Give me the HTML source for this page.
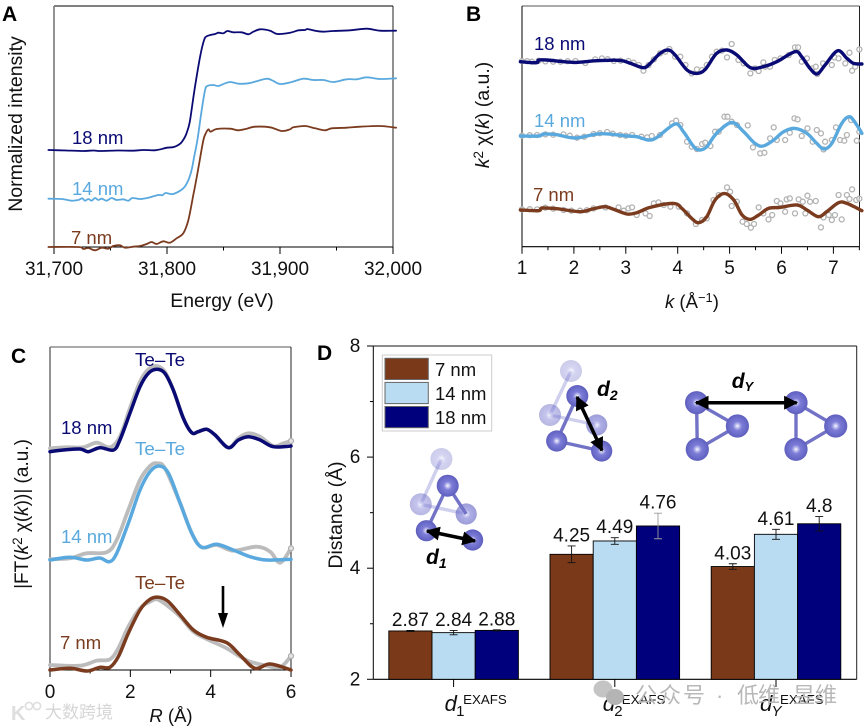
<!DOCTYPE html>
<html lang="en">
<head>
<meta charset="utf-8">
<title>Te nanoparticle EXAFS figure</title>
<style>
html,body{margin:0;padding:0;background:#fff;width:866px;height:728px;overflow:hidden}
svg{display:block;font-family:"Liberation Sans","Noto Sans CJK SC",sans-serif;fill:#111;filter:blur(0.35px)}
text{font-size:19px}
.letter{font-size:21px;font-weight:bold;fill:#000}
.it{font-style:italic}
.bi{font-style:italic;font-weight:bold;fill:#000}
</style>
</head>
<body>
<svg id="fig" width="866" height="728" viewBox="0 0 866 728" xmlns="http://www.w3.org/2000/svg">
  <defs>
    <radialGradient id="ball" cx="50%" cy="50%" r="55%">
      <stop offset="0" stop-color="#fff"/>
      <stop offset="0.12" stop-color="#c9c9f2"/>
      <stop offset="0.35" stop-color="#7d7dd8"/>
      <stop offset="0.85" stop-color="#6262c2"/>
      <stop offset="1" stop-color="#4c4ca8"/>
    </radialGradient>
    <marker id="ah" viewBox="0 0 10 10" refX="9" refY="5" markerWidth="4" markerHeight="4" orient="auto-start-reverse">
      <path d="M0 0L10 5L0 10z" fill="#000"/>
    </marker>
  </defs>

  <g id="panelA"></g>
  <g id="panelB"></g>
  <g id="panelC"></g>
  <g id="panelD"></g>

  <text class="letter" x="2" y="21">A</text>
  <text class="letter" x="466" y="21">B</text>
  <text class="letter" x="11" y="363">C</text>
  <text class="letter" x="317" y="360">D</text>

  <text transform="translate(22,124) rotate(-90)" text-anchor="middle" style="font-size:19.5px">Normalized intensity</text>
  <text x="222" y="307" text-anchor="middle" style="font-size:19.4px">Energy (eV)</text>

  <text transform="translate(489,115) rotate(-90)" text-anchor="middle" style="font-size:19.5px"><tspan class="it">k</tspan><tspan dy="-6" style="font-size:13.5px">2</tspan><tspan dy="6"> χ(</tspan><tspan class="it">k</tspan><tspan>) (a.u.)</tspan></text>
  <text x="692" y="308" text-anchor="middle" style="font-size:18.5px"><tspan class="it">k</tspan><tspan> (Å</tspan><tspan dy="-6" style="font-size:13px">−1</tspan><tspan dy="6">)</tspan></text>

  <text transform="translate(28,514) rotate(-90)" text-anchor="middle" style="font-size:19px"><tspan>|FT(</tspan><tspan class="it">k</tspan><tspan dy="-6" style="font-size:13.5px">2</tspan><tspan dy="6"> χ(</tspan><tspan class="it">k</tspan><tspan>))| (a.u.)</tspan></text>
  <text x="171" y="722" text-anchor="middle" style="font-size:18.5px"><tspan class="it">R</tspan><tspan> (Å)</tspan></text>

  <text transform="translate(342,515) rotate(-90)" text-anchor="middle" style="font-size:19.5px">Distance (Å)</text>

  <!-- annotations panel C -->
  <line x1="223" y1="586" x2="223" y2="613" stroke="#000" stroke-width="2.6"/>
  <path d="M218 613L228 613L223 628z" fill="#000"/>

  <!-- molecular illustrations -->
  <g>
    <g>
      <g stroke="#cfcfee" stroke-width="3.4" fill="none">
        <line x1="441.4" y1="459" x2="420.8" y2="504.3"/>
        <line x1="420.8" y1="504.3" x2="466.2" y2="514"/>
      </g>
      <circle cx="441.4" cy="459" r="11" fill="url(#ball)" opacity="0.32"/>
      <circle cx="420.8" cy="504.3" r="11" fill="url(#ball)" opacity="0.45"/>
      <circle cx="466.2" cy="514" r="10.6" fill="url(#ball)" opacity="0.62"/>
      <g stroke="#7272c6" stroke-width="3.4" fill="none">
        <line x1="447.7" y1="485.7" x2="426.4" y2="530.7"/>
        <line x1="447.7" y1="485.7" x2="466.2" y2="514"/>
      </g>
      <circle cx="447.7" cy="485.7" r="11" fill="url(#ball)"/>
      <circle cx="426.4" cy="530.7" r="10.6" fill="url(#ball)"/>
      <circle cx="472.6" cy="540" r="10.6" fill="url(#ball)"/>
      <line x1="427" y1="531" x2="475" y2="541" stroke="#000" stroke-width="3.5" marker-start="url(#ah)" marker-end="url(#ah)"/>
      <text x="426" y="564" class="bi" style="font-size:21px">d<tspan dy="4" style="font-size:14px">1</tspan></text>
    </g>
    <g>
      <g stroke="#cfcfee" stroke-width="3.4" fill="none">
        <line x1="571" y1="371" x2="550" y2="415"/>
        <line x1="550" y1="415" x2="596.7" y2="425"/>
      </g>
      <circle cx="571" cy="371" r="11" fill="url(#ball)" opacity="0.32"/>
      <circle cx="550" cy="415" r="11" fill="url(#ball)" opacity="0.45"/>
      <circle cx="596.7" cy="425" r="10.6" fill="url(#ball)" opacity="0.62"/>
      <g stroke="#7272c6" stroke-width="3.4" fill="none">
        <line x1="577.3" y1="396" x2="556.7" y2="441"/>
        <line x1="556.7" y1="441" x2="601.7" y2="451"/>
      </g>
      <circle cx="577.3" cy="396" r="11" fill="url(#ball)"/>
      <circle cx="556.7" cy="441" r="10.6" fill="url(#ball)"/>
      <circle cx="601.7" cy="451" r="10.6" fill="url(#ball)"/>
      <line x1="577" y1="397" x2="602" y2="450.5" stroke="#000" stroke-width="3.5" marker-start="url(#ah)" marker-end="url(#ah)"/>
      <text x="597" y="396" class="bi" style="font-size:21px">d<tspan dy="4" style="font-size:14px">2</tspan></text>
    </g>
    <g>
      <g stroke="#7272c6" stroke-width="3.4" fill="none">
        <path d="M696.6 402.7L737.4 426L697.3 449.3z"/>
        <path d="M796 402.7L835.7 426L796 449.3z"/>
      </g>
      <circle cx="696.6" cy="402.7" r="11.6" fill="url(#ball)"/>
      <circle cx="737.4" cy="426" r="11.6" fill="url(#ball)"/>
      <circle cx="697.3" cy="449.3" r="11.6" fill="url(#ball)"/>
      <circle cx="796" cy="402.7" r="11.6" fill="url(#ball)"/>
      <circle cx="835.7" cy="426" r="11.6" fill="url(#ball)"/>
      <circle cx="796" cy="449.3" r="11.6" fill="url(#ball)"/>
      <line x1="696" y1="402.7" x2="796.7" y2="402.7" stroke="#000" stroke-width="3.5" marker-start="url(#ah)" marker-end="url(#ah)"/>
      <text x="731.7" y="388" class="bi" style="font-size:21px">d<tspan dy="3" style="font-size:13px">Y</tspan></text>
    </g>
  </g>

  <!-- watermarks -->
  <g fill="#bdbdbd">
    <ellipse cx="603" cy="689" rx="9.5" ry="8.5" fill="#c4c4c4"/>
    <ellipse cx="615" cy="697" rx="9" ry="8" fill="#b4b4b4"/>
    <text x="635" y="703" style="font-size:22px;letter-spacing:2px;fill:#b8b8b8">公众号</text>
    <text x="716" y="703" style="font-size:22px;fill:#b8b8b8">·</text>
    <text x="737" y="703" style="font-size:22px;letter-spacing:-1px;fill:#b8b8b8">低维</text>
    <text x="793" y="703" style="font-size:22px;fill:#b8b8b8">昱维</text>
  </g>
  <g>
    <text x="11" y="720" style="font-size:20px;font-weight:bold;fill:#dedede">K</text>
    <circle cx="29" cy="706" r="3.6" fill="none" stroke="#dedede" stroke-width="1.6"/>
    <circle cx="37" cy="706" r="3.6" fill="none" stroke="#dedede" stroke-width="1.6"/>
    <text x="45" y="718" style="font-size:17px;fill:#d6d6d6">大数跨境</text>
  </g>
</svg>

<script>
// ---------- Panel A data ----------
const aTicks = [31700, 31800, 31900, 32000];
const aTickLabels = ["31,700", "31,800", "31,900", "32,000"];
const aMinorTicks = [31750, 31850, 31950];
const a18E = [31695,31711,31726,31735,31741,31756,31770,31779,31790,31800,31806,31812,31816,31818,31820.4,31824.8,31829.3,31832.8,31835.7,31842.5,31845.5,31849.9,31853.4,31858.8,31866.1,31872,31876.5,31882.4,31891.2,31897.7,31908.9,31916.3,31922.2,31924.2,31931,31938.4,31947.3,31962,31976.8,31988.6,32002.7];
const a18V = [.97,.965,.96,.965,.96,.965,.963,.97,.968,.993,1.0,1.037,1.103,1.16,1.27,1.603,1.903,2.07,2.11,2.13,2.143,2.137,2.16,2.147,2.147,2.127,2.153,2.177,2.163,2.13,2.143,2.167,2.17,2.18,2.163,2.153,2.16,2.167,2.183,2.163,2.163];
const a14E = [31695,31706.8,31715.6,31721.5,31725,31727.4,31730.4,31733.3,31736.3,31739.2,31742.2,31746.6,31751,31755.4,31761.3,31765.8,31769.3,31776.1,31783.5,31792.3,31795.8,31798.8,31805.6,31814.4,31818.9,31821.8,31824,31826.9,31830.7,31833.7,31835.7,31841,31845.5,31851.4,31856.4,31863.2,31872,31880.9,31888.8,31894.2,31900.1,31910.4,31920.7,31929.6,31938.4,31947.3,31959,31967.9,31976.8,31988.6,32002.7];
const a14V = [.483,.48,.463,.47,.487,.463,.48,.463,.49,.47,.483,.463,.49,.47,.477,.463,.49,.48,.493,.52,.517,.54,.53,.587,.67,.77,.9,1.07,1.37,1.57,1.61,1.62,1.61,1.637,1.65,1.633,1.637,1.663,1.683,1.66,1.63,1.65,1.683,1.67,1.67,1.65,1.677,1.677,1.697,1.68,1.687];
const a7E = [31695,31721.5,31725.9,31730.4,31736.3,31742.2,31748,31752.5,31758.4,31762.8,31770.2,31776.1,31782,31786.4,31790.8,31796.7,31802.6,31808.5,31814.4,31818.9,31823.3,31826,31829,31832.2,31834.3,31836.6,31838.7,31844,31855.8,31863.2,31870.6,31877.9,31891.2,31901.5,31908.9,31911.9,31922.2,31931,31939.9,31945.8,31959,31970.9,31988.6,32002.7];
const a7V = [0,0,-.02,-.01,-.033,-.007,-.017,.01,.017,-.007,.003,.01,.03,.05,.03,.057,.043,.087,.137,.27,.52,.68,.87,1.07,1.137,1.177,1.153,1.18,1.183,1.167,1.183,1.203,1.197,1.16,1.177,1.197,1.21,1.187,1.167,1.187,1.193,1.203,1.21,1.193];

// ---------- Panel B data ----------
const bTicks = [1, 2, 3, 4, 5, 6, 7];
const bMinorTicks = [1.5, 2.5, 3.5, 4.5, 5.5, 6.5, 7.5];
const b18K = [.97,1.28,1.32,1.48,1.99,2.44,2.89,3.09,3.34,3.47,3.66,3.82,3.95,4.18,4.37,4.53,4.75,4.95,5.14,5.40,5.65,5.91,6.26,6.39,6.55,6.69,6.84,7.08,7.26,7.39,7.55];
const b18V = [1.85,1.84,1.867,1.867,1.843,1.86,1.863,1.833,1.79,1.833,1.933,1.967,1.917,1.767,1.733,1.773,1.933,1.967,1.917,1.79,1.8,1.85,1.95,1.9,1.783,1.727,1.817,1.96,1.883,1.833,1.827];
const b14K = [.97,1.32,1.42,1.67,2.03,2.51,3.02,3.21,3.44,3.6,3.95,4.11,4.31,4.43,4.56,4.75,5.04,5.27,5.49,5.65,5.85,6.04,6.26,6.49,6.68,6.82,6.97,7.16,7.31,7.45,7.55];
const b14V = [1.107,1.107,1.127,1.12,1.087,1.13,1.107,1.1,1.067,1.093,1.227,1.15,1.0,.967,1.0,1.133,1.243,1.15,1.033,1.007,1.067,1.15,1.183,1.133,1.033,.977,1.033,1.233,1.3,1.217,1.133];
const b7K = [.97,1.32,1.39,1.67,2.12,2.38,2.6,2.77,3.02,3.21,3.47,3.92,4.08,4.27,4.4,4.56,4.72,4.9,5.08,5.24,5.4,5.56,5.75,5.97,6.3,6.49,6.71,6.87,7.1,7.26,7.55];
const b7V = [.367,.36,.387,.38,.35,.38,.4,.373,.327,.34,.393,.433,.383,.283,.24,.3,.467,.533,.467,.317,.273,.317,.383,.393,.417,.367,.3,.35,.44,.433,.36];
const b18PtK = [1,1.1,1.19,1.32,1.45,1.6,1.74,1.88,2.03,2.22,2.41,2.54,2.65,2.77,2.9,3.05,3.15,3.25,3.34,3.44,3.54,3.66,3.76,3.84,3.95,4.05,4.15,4.27,4.37,4.47,4.56,4.66,4.75,4.85,4.95,5.04,5.17,5.27,5.40,5.49,5.56,5.65,5.69,5.78,5.87,5.98,6.14,6.26,6.32,6.39,6.49,6.59,6.66,6.69,6.80,6.97,7.02,7.10,7.23,7.31,7.36,7.42,7.50];
const b18PtV = [1.857,1.855,1.85,1.86,1.853,1.85,1.85,1.855,1.857,1.837,1.873,1.883,1.875,1.857,1.86,1.857,1.84,1.817,1.76,1.817,1.873,1.933,1.95,1.977,1.9,1.9,1.817,1.733,1.773,1.767,1.817,1.9,1.95,1.96,1.893,2.027,1.867,1.833,1.733,1.783,1.757,1.843,1.8,1.8,1.867,1.883,1.917,1.993,1.993,1.85,1.883,1.783,1.8,1.727,1.833,1.817,1.893,1.883,1.833,1.94,1.76,1.8,1.973];
const b14PtK = [1,1.15,1.29,1.45,1.6,1.80,1.92,2.06,2.2,2.38,2.5,2.64,2.75,2.89,3.0,3.12,3.3,3.41,3.50,3.66,3.89,3.97,4.05,4.18,4.27,4.37,4.47,4.53,4.63,4.72,4.79,4.90,4.96,5.04,5.14,5.35,5.45,5.59,5.67,5.78,5.85,5.91,6.07,6.16,6.25,6.31,6.39,6.50,6.60,6.68,6.76,6.81,6.84,6.97,7.05,7.13,7.21,7.26,7.34,7.45,7.50];
const b14PtV = [1.11,1.115,1.117,1.123,1.12,1.123,1.11,1.09,1.1,1.127,1.135,1.147,1.13,1.117,1.11,1.117,1.1,1.093,1.107,1.117,1.233,1.26,1.217,1.05,1.0,.977,1.027,1.04,1.007,1.15,1.15,1.3,1.3,1.25,1.217,1.213,.993,.933,.94,1.083,1.193,1.067,1.067,1.14,1.283,1.273,1.107,1.183,1.05,1.167,1.133,.973,1.05,1.067,1.193,1.067,1.06,1.117,1.267,1.06,1.15];
const b7PtK = [1,1.15,1.29,1.45,1.6,1.80,1.95,2.12,2.25,2.38,2.61,2.86,2.96,3.05,3.12,3.21,3.38,3.46,3.54,3.63,3.73,3.86,4.02,4.18,4.35,4.47,4.56,4.69,4.79,4.95,5.01,5.04,5.14,5.25,5.33,5.41,5.47,5.56,5.65,5.75,5.82,5.91,5.98,6.07,6.10,6.16,6.26,6.33,6.41,6.46,6.50,6.55,6.66,6.76,6.81,6.91,6.97,7.03,7.10,7.16,7.26,7.31,7.36,7.44,7.50];
const b7PtV = [.373,.375,.373,.39,.38,.367,.36,.36,.365,.383,.393,.393,.36,.383,.393,.317,.333,.307,.433,.443,.417,.4,.4,.333,.227,.267,.283,.467,.517,.593,.55,.407,.45,.25,.227,.19,.227,.393,.333,.273,.317,.457,.433,.35,.473,.483,.333,.473,.45,.333,.51,.45,.457,.193,.293,.317,.267,.317,.517,.273,.517,.477,.573,.467,.48];

// ---------- Panel C data ----------
const cTicks = [0, 2, 4, 6];
const cMinorTicks = [1, 3, 5];
const c18R = [0,.33,.75,.95,1.24,1.58,1.74,1.99,2.24,2.45,2.66,2.86,3.07,3.32,3.53,3.69,3.90,4.11,4.44,4.69,4.94,5.23,5.56,6.0];
const c18V = [2.183,2.2,2.21,2.183,2.223,2.2,2.3,2.567,2.833,2.967,3.007,2.967,2.8,2.517,2.373,2.383,2.407,2.35,2.223,2.3,2.333,2.3,2.233,2.24];
const c18FitR = [0,.41,.83,1.16,1.49,1.74,1.99,2.24,2.45,2.66,2.86,3.07,3.32,3.53,3.69,3.90,4.11,4.44,4.69,4.94,5.23,5.56,5.81,6.0];
const c18FitV = [2.217,2.227,2.227,2.273,2.227,2.333,2.617,2.883,3.007,3.04,2.983,2.8,2.517,2.373,2.383,2.407,2.35,2.223,2.317,2.367,2.333,2.24,2.267,2.29];
const c14R = [0,.5,.91,1.24,1.48,1.66,1.95,2.24,2.49,2.72,2.95,3.24,3.53,3.78,4.15,4.56,4.98,5.39,6.0];
const c14V = [1.1,1.127,1.1,1.12,1.083,1.167,1.467,1.8,1.983,2.04,1.967,1.667,1.367,1.227,1.257,1.2,1.133,1.1,1.107];
const c14FitR = [0,.5,.91,1.41,1.66,1.95,2.24,2.49,2.66,2.86,3.24,3.53,3.78,4.15,4.56,5.14,5.48,5.73,6.0];
const c14FitV = [1.107,1.117,1.167,1.177,1.3,1.6,1.9,2.04,2.067,2.017,1.667,1.367,1.227,1.25,1.193,1.233,1.183,1.073,1.217];
const c7R = [0,.5,.93,1.24,1.49,1.7,1.95,2.24,2.49,2.72,2.95,3.24,3.57,3.9,4.4,4.73,5.1,5.48,6.0];
const c7V = [0,.017,-.01,.027,.027,.133,.367,.6,.707,.727,.683,.55,.4,.327,.273,.15,.017,.06,0];
const c7FitR = [0,.75,1.16,1.49,1.7,1.95,2.24,2.49,2.66,2.9,3.24,3.57,3.9,4.4,4.73,4.98,5.31,5.64,5.81,6.0];
const c7FitV = [.05,.043,.093,.107,.217,.433,.617,.683,.707,.65,.533,.383,.31,.217,.133,.083,.05,.023,.05,.14];

// ---------- Panel D data ----------
const dYTicks = [2, 4, 6, 8];
const dYMinorTicks = [3, 5, 7];
const dSeriesNames = ["7 nm", "14 nm", "18 nm"];
const d7nm = [2.87, 4.25, 4.03];
const d14nm = [2.84, 4.49, 4.61];
const d18nm = [2.88, 4.76, 4.8];
const d7Err = [0.01, 0.15, 0.05];
const d14Err = [0.04, 0.06, 0.09];
const d18Err = [0.01, 0.23, 0.13];
const dCategorySubs = ["1", "2", "Y"];

// ---------- colours ----------
const NAVY = "#0a0a74", SKY = "#5aa9de", BROWN = "#7a3b1e";

// ---------- axis functions ----------
const xA = e => 54 + (e - 31700) * 339 / 300;
const yA = v => 247 - v * 100;
const xB = k => 522 + (k - 1) * 51.9;
const yB = v => 246.7 - v * 100;
const xC = r => 50 + r * 40.17;
const yC = v => 670 - v * 100;
const yD = v => 679.3 - (v - 2) * 55.55;
const xD = i => 453.6 + i * 161.2;
const BARW = 43.2;

const NS = "http://www.w3.org/2000/svg";
function mk(tag, attrs, parent) {
  const e = document.createElementNS(NS, tag);
  for (const a in attrs) e.setAttribute(a, attrs[a]);
  parent.appendChild(e);
  return e;
}
function smooth(xs, ys, fx, fy) {
  const p = xs.map((x, i) => [fx(x), fy(ys[i])]);
  let d = "M" + p[0][0].toFixed(1) + " " + p[0][1].toFixed(1);
  for (let i = 0; i < p.length - 1; i++) {
    const a = p[Math.max(i - 1, 0)], b = p[i], c = p[i + 1], e = p[Math.min(i + 2, p.length - 1)];
    const c1x = b[0] + (c[0] - a[0]) / 6, c1y = b[1] + (c[1] - a[1]) / 6;
    const c2x = c[0] - (e[0] - b[0]) / 6, c2y = c[1] - (e[1] - b[1]) / 6;
    d += "C" + c1x.toFixed(1) + " " + c1y.toFixed(1) + " " + c2x.toFixed(1) + " " + c2y.toFixed(1) + " " + c[0].toFixed(1) + " " + c[1].toFixed(1);
  }
  return d;
}
function drawFrame(parent, prefix, l, t, r, b, leftCol, topCol) {
  const sides = [
    [l, t, r, t, topCol, topCol === "#000" ? 1 : 1.3, "top"],
    [r, t, r, b, "#222", 1, "right"],
    [l, t, l, b, leftCol, leftCol === "#000" ? 1 : 1.6, "left"],
    [l, b, r, b, "#000", 1.1, "bottom"]
  ];
  sides.forEach(s => {
    const ln = mk("line", { x1: s[0], y1: s[1], x2: s[2], y2: s[3], stroke: s[4], "stroke-width": s[5] }, parent);
    
    
  });
}
function drawXTicks(parent, prefix, ticks, labels, minor, fx, yBase, yLabel, size) {
  ticks.forEach((t, i) => {
    const ln = mk("line", { x1: fx(t), y1: yBase, x2: fx(t), y2: yBase + 7, stroke: "#000", "stroke-width": 1 }, parent);
    
    
    const tx = mk("text", { x: fx(t), y: yLabel, "text-anchor": "middle", style: "font-size:" + size + "px" }, parent);
    tx.textContent = labels[i];
    
    
  });
  minor.forEach(t => {
    const ln = mk("line", { x1: fx(t), y1: yBase, x2: fx(t), y2: yBase + 3.5, stroke: "#000", "stroke-width": 1 }, parent);
    
    
  });
}
function drawLine(parent, name, xs, ys, fx, fy, color, width) {
  const p = mk("path", { d: smooth(xs, ys, fx, fy), fill: "none", stroke: color, "stroke-width": width, "stroke-linejoin": "round", "stroke-linecap": "round" }, parent);
  
  
}
function drawPoints(parent, name, xs, ys, fx, fy) {
  xs.forEach((x, i) => {
    const c = mk("circle", { cx: fx(x), cy: fy(ys[i]), r: 2.5, fill: "#fff", "fill-opacity": 0.6, stroke: "#b2b2b2", "stroke-width": 1.3 }, parent);
    
    
  });
}
function drawLabel(parent, name, txt, x, y, color, size) {
  const t = mk("text", { x: x, y: y, fill: color, style: "font-size:" + size + "px;fill:" + color }, parent);
  t.textContent = txt;
  
  
}

// ---------- Panel A ----------
const pA = document.getElementById("panelA");
drawFrame(pA, "panel-a", 54, 6, 393, 247, "#777", "#000");
drawXTicks(pA, "panel-a", aTicks, aTickLabels, aMinorTicks, xA, 247, 275, 19);
drawLine(pA, "xanes-18nm-line", a18E, a18V, xA, yA, NAVY, 1.8);
drawLine(pA, "xanes-14nm-line", a14E, a14V, xA, yA, SKY, 1.8);
drawLine(pA, "xanes-7nm-line", a7E, a7V, xA, yA, BROWN, 1.8);
drawLabel(pA, "label-18nm-a", "18 nm", 72, 144, NAVY, 18.5);
drawLabel(pA, "label-14nm-a", "14 nm", 72, 195, SKY, 18.5);
drawLabel(pA, "label-7nm-a", "7 nm", 71, 244, BROWN, 18.5);

// ---------- Panel B ----------
const pB = document.getElementById("panelB");
drawFrame(pB, "panel-b", 522, 6, 859.5, 246.7, "#000", "#777");
drawXTicks(pB, "panel-b", bTicks, bTicks.map(String), bMinorTicks, xB, 246.7, 274, 19);
drawPoints(pB, "exafs-18nm-point", b18PtK, b18PtV, xB, yB);
drawPoints(pB, "exafs-14nm-point", b14PtK, b14PtV, xB, yB);
drawPoints(pB, "exafs-7nm-point", b7PtK, b7PtV, xB, yB);
drawLine(pB, "exafs-18nm-fit", b18K, b18V, xB, yB, NAVY, 3.4);
drawLine(pB, "exafs-14nm-fit", b14K, b14V, xB, yB, SKY, 3.4);
drawLine(pB, "exafs-7nm-fit", b7K, b7V, xB, yB, BROWN, 3.4);
drawLabel(pB, "label-18nm-b", "18 nm", 534, 50, NAVY, 18.5);
drawLabel(pB, "label-14nm-b", "14 nm", 534, 127, SKY, 18.5);
drawLabel(pB, "label-7nm-b", "7 nm", 533, 201, BROWN, 18.5);

// ---------- Panel C ----------
const pC = document.getElementById("panelC");
drawFrame(pC, "panel-c", 50, 347, 291, 670, "#777", "#777");
drawXTicks(pC, "panel-c", cTicks, cTicks.map(String), cMinorTicks, xC, 670, 698, 19);
drawLine(pC, "ft-18nm-data", c18FitR, c18FitV, xC, yC, "#bcbcbc", 3.8);
drawLine(pC, "ft-14nm-data", c14FitR, c14FitV, xC, yC, "#bcbcbc", 3.8);
drawLine(pC, "ft-7nm-data", c7FitR, c7FitV, xC, yC, "#bcbcbc", 3.8);
drawPoints(pC, "ft-18nm-end-point", c18FitR.slice(-1), c18FitV.slice(-1), xC, yC);
drawPoints(pC, "ft-14nm-end-point", c14FitR.slice(-1), c14FitV.slice(-1), xC, yC);
drawPoints(pC, "ft-7nm-end-point", c7FitR.slice(-1), c7FitV.slice(-1), xC, yC);
drawLine(pC, "ft-18nm-fit", c18R, c18V, xC, yC, NAVY, 3.5);
drawLine(pC, "ft-14nm-fit", c14R, c14V, xC, yC, SKY, 3.5);
drawLine(pC, "ft-7nm-fit", c7R, c7V, xC, yC, BROWN, 3.5);
drawLabel(pC, "te-te-label-18nm", "Te–Te", 135, 366, NAVY, 18.8);
drawLabel(pC, "te-te-label-14nm", "Te–Te", 135, 455, SKY, 18.8);
drawLabel(pC, "te-te-label-7nm", "Te–Te", 135, 589, BROWN, 18.8);
drawLabel(pC, "label-18nm-c", "18 nm", 61, 434, NAVY, 18.5);
drawLabel(pC, "label-14nm-c", "14 nm", 61, 543, SKY, 18.5);
drawLabel(pC, "label-7nm-c", "7 nm", 60, 649, BROWN, 18.5);

// ---------- Panel D ----------
const pD = document.getElementById("panelD");
drawFrame(pD, "panel-d", 373.3, 346, 856.7, 679.3, "#000", "#444");
dYTicks.forEach(t => {
  const ln = mk("line", { x1: 367, y1: yD(t), x2: 373.3, y2: yD(t), stroke: "#000", "stroke-width": 1 }, pD);
  
  
  const tx = mk("text", { x: 355, y: yD(t) + 6, "text-anchor": "middle", style: "font-size:19px" }, pD);
  tx.textContent = String(t);
  
  
});
dYMinorTicks.forEach(t => {
  const ln = mk("line", { x1: 370, y1: yD(t), x2: 373.3, y2: yD(t), stroke: "#000", "stroke-width": 1 }, pD);
  
  
});
const dSeries = [d7nm, d14nm, d18nm];
const dErrs = [d7Err, d14Err, d18Err];
const dColors = ["#7a3a1a", "#b9dcf2", "#00007c"];
dSeries.forEach((vals, s) => {
  vals.forEach((v, i) => {
    const x = xD(i) - 1.5 * BARW + s * BARW;
    const b = mk("rect", { x: x, y: yD(v), width: BARW, height: yD(2) - yD(v), fill: dColors[s], stroke: "#000", "stroke-width": 0.9 }, pD);
    
    
    const cx = x + BARW / 2, e = dErrs[s][i];
    const eb = mk("path", { d: "M" + cx + " " + yD(v + e) + "V" + yD(v - e) + "M" + (cx - 4) + " " + yD(v + e) + "h8M" + (cx - 4) + " " + yD(v - e) + "h8", stroke: (s === 2 && i === 1) ? "#999" : "#111", "stroke-width": 0.9, fill: "none" }, pD);
    
    
    const t = mk("text", { x: cx, y: yD(v + e) - 4.5, "text-anchor": "middle", style: "font-size:19px" }, pD);
    t.textContent = String(v);
    
    
  });
});
dCategorySubs.forEach((sub, i) => {
  const ln = mk("line", { x1: xD(i), y1: 679.3, x2: xD(i), y2: 687, stroke: "#000", "stroke-width": 1 }, pD);
  
  
  const offs = [-9, -12, -16];
  const eoff = [9.5, 7, 4];
  const t = mk("text", { x: xD(i) + offs[i], y: 711, style: "font-size:22px;font-style:italic" }, pD);
  t.textContent = "d";
  
  
  const s2 = mk("text", { x: xD(i) + offs[i] + 11.5, y: 716, style: "font-size:15px;font-style:" + (sub === "Y" ? "italic" : "normal") }, pD);
  s2.textContent = sub;
  
  
  const s3 = mk("text", { x: xD(i) + eoff[i], y: 704, style: "font-size:13.3px" }, pD);
  s3.textContent = "EXAFS";
  
  
});
// legend
const leg = mk("g", {}, pD);


const legBox = mk("rect", { x: 382.3, y: 355, width: 109.4, height: 76, fill: "#fff", stroke: "#ccc", "stroke-width": 1 }, leg);


dSeriesNames.forEach((n, s) => {
  const yy = 358.3 + s * 24.1;
  const r = mk("rect", { x: 385, y: yy, width: 43.3, height: 21.2, fill: dColors[s], stroke: "#666", "stroke-width": 1 }, leg);
  
  
  const t = mk("text", { x: 435, y: 375.8 + s * 24, style: "font-size:18.5px" }, leg);
  t.textContent = n;
  
  
});
</script>
</body>
</html>
